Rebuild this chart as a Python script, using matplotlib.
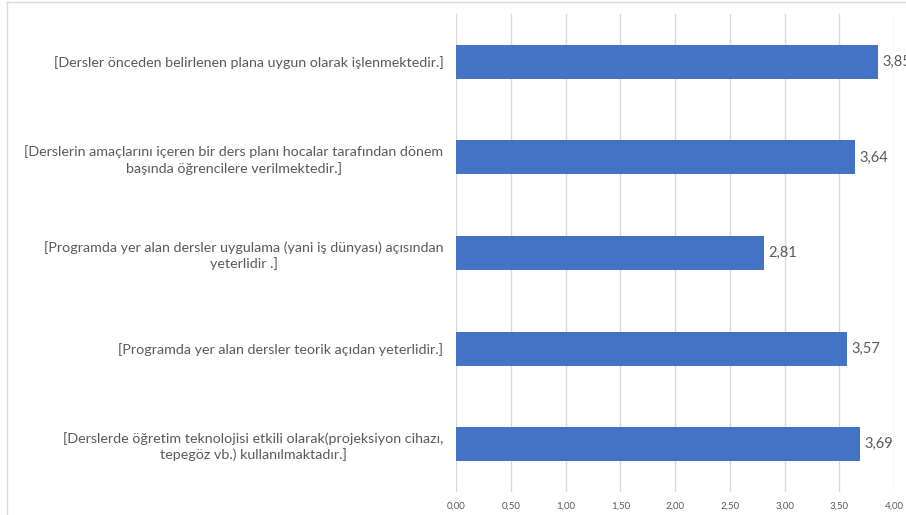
import matplotlib
matplotlib.use("Agg")
from matplotlib import pyplot as plt
from matplotlib.lines import Line2D

plt.rcParams['font.family'] = ['Lato', 'DejaVu Sans']

# Data
labels = [
    "[Dersler önceden belirlenen plana uygun olarak işlenmektedir.]",
    "[Derslerin amaçlarını içeren bir ders planı hocalar tarafından dönem\nbaşında öğrencilere verilmektedir.]",
    "[Programda yer alan dersler uygulama (yani iş dünyası) açısından\nyeterlidir .]",
    "[Programda yer alan dersler teorik açıdan yeterlidir.]",
    "[Derslerde öğretim teknolojisi etkili olarak(projeksiyon cihazı,\ntepegöz vb.) kullanılmaktadır.]",
]
values = [3.85, 3.64, 2.81, 3.57, 3.69]
ticks = [0, 0.5, 1.0, 1.5, 2.0, 2.5, 3.0, 3.5, 4.0]

text_color = "#595959"
bar_color = "#4472C4"
grid_color = "#D9D9D9"

W, H = 906, 515
fig = plt.figure(figsize=(W / 100, H / 100), dpi=100)
ax = fig.add_axes([456 / W, 1 - 492 / H, (894 - 456) / W, (492 - 14) / H])

y = list(range(len(labels)))
bars = ax.barh(y, values, height=0.355, color=bar_color, zorder=3)

ax.set_xlim(0, 4.0)
ax.set_ylim(len(labels) - 0.5, -0.5)
ax.set_xticks(ticks)
ax.set_xticklabels([f"{t:.2f}".replace(".", ",") for t in ticks], fontsize=7, color=text_color)
ax.set_yticks(y)
ax.set_yticklabels(labels, fontsize=10.3, color=text_color, multialignment="center",
                   linespacing=1.3)
ax.tick_params(axis="both", length=0)
ax.tick_params(axis="x", pad=7)
ax.tick_params(axis="y", pad=9)
ax.grid(axis="x", color=grid_color, linewidth=1, zorder=0)
for s in ax.spines.values():
    s.set_visible(False)

for b, v in zip(bars, values):
    ax.text(v + 0.04, b.get_y() + b.get_height() / 2, f"{v:.2f}".replace(".", ","),
            va="center", ha="left", fontsize=10.5, color=text_color, clip_on=False)

# chart frame (cropped on right and bottom)
fig.add_artist(Line2D([7 / W, 1], [1 - 2 / H, 1 - 2 / H], color=grid_color, linewidth=1))
fig.add_artist(Line2D([7 / W, 7 / W], [0, 1 - 2 / H], color=grid_color, linewidth=1))

fig.savefig("out.png", dpi=100)
